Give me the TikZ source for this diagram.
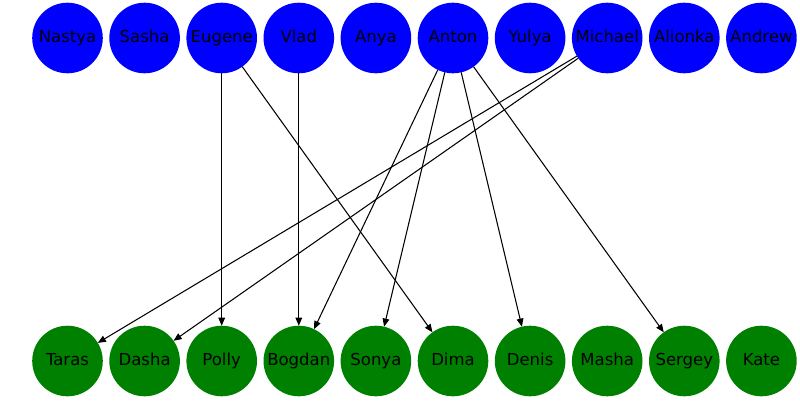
\documentclass[tikz,border=0pt]{standalone}
\usepackage{fontspec}
\setmainfont{DejaVu Sans}
\usetikzlibrary{arrows.meta}
\definecolor{srcblue}{RGB}{0,0,255}
\definecolor{dstgreen}{RGB}{0,128,0}
\begin{document}
\begin{tikzpicture}[x=0.02cm,y=0.02cm,
  person/.style={circle,minimum size=1.412cm,inner sep=0pt,outer sep=0pt,
    text height=8pt,text depth=2.33pt,
    font=\fontsize{9.4pt}{11pt}\selectfont,text=black},
  giver/.style={person,fill=srcblue},
  taker/.style={person,fill=dstgreen},
  link/.style={line width=0.6pt,-{Triangle[length=4.6pt,width=3.8pt]}}]
\useasboundingbox (0,0) rectangle (800,400);
% top row
\foreach \n [count=\i from 0] in {Nastya,Sasha,Eugene,Vlad,Anya,Anton,Yulya,Michael,Alionka,Andrew}
  \node[giver] (\n) at ({67.5+77.1*\i},362) {\n};
% bottom row
\foreach \n [count=\i from 0] in {Taras,Dasha,Polly,Bogdan,Sonya,Dima,Denis,Masha,Sergey,Kate}
  \node[taker] (\n) at ({67.5+77.1*\i},39) {\n};
% connections
\draw[link] (Eugene) -- (Polly);
\draw[link] (Eugene) -- (Dima);
\draw[link] (Vlad) -- (Bogdan);
\draw[link] (Anton) -- (Bogdan);
\draw[link] (Anton) -- (Sonya);
\draw[link] (Anton) -- (Denis);
\draw[link] (Anton) -- (Sergey);
\draw[link] (Michael) -- (Taras);
\draw[link] (Michael) -- (Dasha);
\end{tikzpicture}
\end{document}
